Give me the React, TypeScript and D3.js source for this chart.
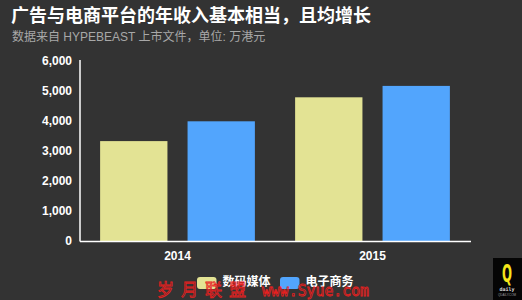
import React from "react";
import * as d3 from "d3";

const categories = ["2014", "2015"];
const seriesNames = ["数码媒体", "电子商务"];
const digitalMedia = [3330, 4790];
const ecommerce = [3990, 5170];
const yTicks = [0, 1000, 2000, 3000, 4000, 5000, 6000];
const colors = ["#e3e394", "#52a5fd"];
const watermarkChars = ["岁", "月", "联", "盟"];

const W = 522;
const H = 300;

export default function App() {
  const x = d3.scaleBand<string>().domain(categories).range([80, 470]).paddingInner(0).paddingOuter(0);
  const inner = d3.scaleBand<string>().domain(seriesNames).range([0, x.bandwidth()]).paddingInner(0.23).paddingOuter(0.23);
  const y = d3.scaleLinear().domain([0, 6000]).range([241, 61]);
  const fmt = d3.format(",");
  const series = [digitalMedia, ecommerce];
  const font = "'Liberation Sans', Arial, 'Noto Sans CJK SC', sans-serif";

  return (
    <div style={{ position: "fixed", left: 0, top: 0 }}>
      <svg width={W} height={H} style={{ display: "block", fontFamily: font }}>
        <rect x={0} y={0} width={W} height={H} fill="#333333" />
        <text x={11} y={22} fill="#ffffff" fontSize={18} fontWeight="bold">
          广告与电商平台的年收入基本相当，且均增长
        </text>
        <text x={12} y={41} fill="#a8a8a8" fontSize={12}>
          数据来自 HYPEBEAST 上市文件，单位: 万港元
        </text>

        {yTicks.map((t) => (
          <text key={t} x={72} y={y(t)} dy="0.35em" textAnchor="end" fill="#ffffff" fontSize={12} fontWeight="bold">
            {fmt(t)}
          </text>
        ))}

        {categories.map((c, i) =>
          series.map((s, j) => (
            <rect
              key={c + j}
              x={(x(c) as number) + (inner(seriesNames[j]) as number)}
              y={y(s[i])}
              width={inner.bandwidth()}
              height={y(0) - y(s[i])}
              fill={colors[j]}
            />
          ))
        )}

        <line x1={80} x2={80} y1={60} y2={241.5} stroke="#ffffff" strokeWidth={1.5} />
        <line x1={80} x2={471} y1={241.5} y2={241.5} stroke="#ffffff" strokeWidth={1.5} />

        {categories.map((c) => (
          <text key={c} x={(x(c) as number) + x.bandwidth() / 2} y={256} dy="0.35em" textAnchor="middle" fill="#ffffff" fontSize={12} fontWeight="bold">
            {c}
          </text>
        ))}

        {seriesNames.map((n, j) => {
          const lx = 197 + j * 83;
          return (
            <g key={n}>
              <rect x={lx} y={277} width={19.5} height={12} rx={3} fill={colors[j]} />
              <text x={lx + 25.5} y={282} dy="0.35em" fill="#ffffff" fontSize={12} fontWeight="bold">
                {n}
              </text>
            </g>
          );
        })}

        {watermarkChars.map((ch, k) => (
          <text key={ch} x={157 + k * 24} y={296} fill="none" stroke="#e8201f" strokeWidth={0.8} fontSize={17} fontFamily="'Noto Sans CJK SC', sans-serif">
            {ch}
          </text>
        ))}
        <text x={262} y={296} fill="none" stroke="#e8201f" strokeWidth={0.8} fontSize={15} fontFamily="'DejaVu Sans Mono', 'Liberation Mono', monospace" textLength={107} lengthAdjust="spacingAndGlyphs">
          www.Syue.com
        </text>

        <rect x={493} y={258} width={29} height={42} fill="#050505" />
        <text x={507} y={282} textAnchor="middle" fill="#f5e61a" fontSize={24} fontFamily="'DejaVu Sans Condensed', 'Liberation Sans Narrow', sans-serif" fontWeight="bold" textLength={10} lengthAdjust="spacingAndGlyphs">
          Q
        </text>
        <text x={507} y={291} textAnchor="middle" fill="#dddddd" fontSize={5} fontWeight="bold" fontFamily="'DejaVu Sans Mono', monospace">
          daily
        </text>
        <text x={507} y={296} textAnchor="middle" fill="#999999" fontSize={3}>
          QDAILY.COM
        </text>
      </svg>
    </div>
  );
}
